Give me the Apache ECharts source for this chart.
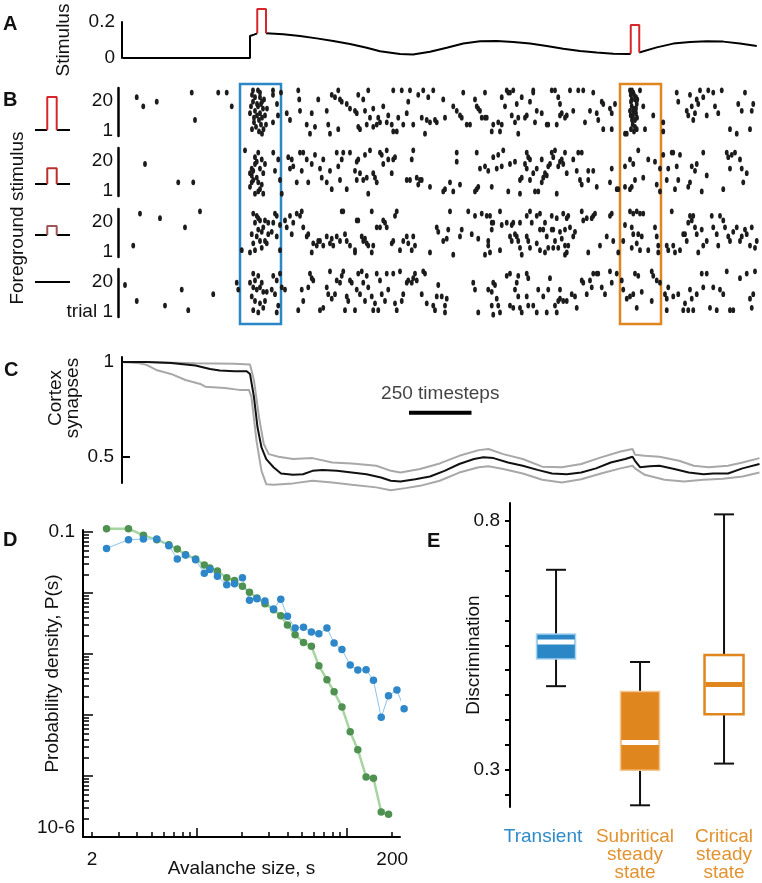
<!DOCTYPE html>
<html><head><meta charset="utf-8">
<script src="https://cdn.jsdelivr.net/npm/echarts@6/dist/echarts.min.js"></script>
<style>html,body{margin:0;padding:0;background:#fff}#c{width:762px;height:883px}</style>
</head><body><div id="c"></div>
<script>
// ---------------- DATA ----------------
const TIME_MAX = 2560;
// Panel A: stimulus trace (timesteps, amplitude)
const STIM_T = [4,100,200,300,400,512,512,528,541,576,645,712,779,845,912,979,1032,1112,1164,1232,1299,1365,1432,1499,1565,1632,1699,1765,1832,1899,1965,2025,2035,2069,2139,2205,2272,2339,2405,2472,2539];
const STIM_V = [0,0,0,0,0,0,0.122,0.13,0.137,0.137,0.132,0.122,0.109,0.094,0.078,0.057,0.037,0.022,0.020,0.035,0.057,0.081,0.093,0.094,0.089,0.080,0.067,0.052,0.039,0.030,0.024,0.022,0.024,0.031,0.059,0.080,0.089,0.093,0.091,0.081,0.067];
const PULSE_START = [541, 2035];
const PULSE_END = [576, 2069];
const PULSE_TOP = [0.272, 0.183];
// Panel B: foreground stimulus amplitude per block (relative) and spike rasters [timestep, trial]
const PULSE_AMPS = [1.0, 0.48, 0.27, 0];
const RASTER_1 = [[59,17],[85,13],[139,15],[279,19],[292,7],[385,19],[419,19],[439,13],
[524,20],[544,20],[552,19],[532,17],[552,17],[524,15],[560,15],[540,14],[516,13],[544,13],[564,12],[532,11],[552,10],[512,10],[540,9],[572,9],[560,8],[548,7],[528,6],[556,5],[536,4],[566,3],[548,2],[560,1],[520,18],[568,16],[604,20],[604,18],[636,19],[620,14],[624,9],[604,6],[580,12],[528,8],[556,14],[520,3],[576,5],
[659,10],[672,7],[705,20],[709,16],[712,11],[739,5],[752,1],[759,10],[772,4],[785,16],[819,11],[825,5],[839,18],[832,1],[852,17],[865,20],[865,3],[872,16],[879,15],[899,14],[912,12],[932,11],[939,10],[945,18],[945,4],[952,3],[965,16],[972,11],[979,5],[985,20],[992,8],[1005,12],[1005,4],[1019,5],[1025,8],[1032,6],[1045,13],[1059,6],[1065,9],[1079,5],[1085,20],[1085,2],[1099,2],[1105,8],[1119,20],[1125,5],[1139,10],[1145,15],[1152,20],[1165,5],[1185,18],[1199,8],[1205,20],[1212,1],[1219,7],[1225,17],[1232,6],[1245,20],[1252,7],
[1285,16],[1259,6],[1292,8],[1325,13],[1339,11],[1352,9],[1359,8],[1365,19],[1379,5],[1392,5],[1412,16],[1419,13],[1425,12],[1432,11],[1439,8],[1452,19],[1452,8],[1459,8],[1479,2],[1485,5],[1505,6],[1512,2],[1519,17],[1519,5],[1532,13],[1539,20],[1545,19],[1552,19],[1559,9],[1565,20],[1572,6],[1579,14],[1585,1],[1585,8],[1599,17],[1612,8],[1619,9],[1632,15],[1645,20],[1645,19],[1652,6],[1659,11],[1679,10],[1699,5],[1705,5],[1719,20],[1732,20],[1745,17],[1752,9],[1739,5],[1759,10],[1772,8],[1779,9],
[1752,14],[1792,20],[1805,11],[1825,20],[1845,20],[1852,6],[1872,11],[1885,19],[1899,10],[1905,7],[1919,15],[1925,14],[1925,3],[1952,12],[1959,10],[1959,3],[1972,14],[2012,1],
[2035,18],[2045,19],[2039,16],[2052,16],[2059,14],[2039,13],[2045,11],[2056,10],[2035,9],[2052,7],[2043,5],[2059,3],[2048,2],[2061,16],[2032,20],[2072,20],[2085,13],[2092,3],[2125,9],[2019,1],[2040,20],[2048,18],[2036,15],[2056,12],[2044,9],[2040,7],[2052,4],[2036,3],[2048,12],[2056,17],[2032,11],[2060,8],
[2165,6],[2165,2],[2219,19],[2225,15],[2259,11],[2265,9],[2272,18],[2279,13],[2285,7],[2292,10],[2299,16],[2305,14],[2312,20],[2325,17],[2339,9],[2345,20],[2365,19],[2372,13],[2385,10],[2399,20],[2432,3],[2459,1],[2465,14],[2479,11],[2492,19],[2512,3],[2519,11],[2525,14]];
const RASTER_2 = [[92,14],[225,6],[285,6],[492,20],
[525,11],[545,19],[559,16],[532,14],[519,9],[539,8],[565,10],[525,7],[545,6],[512,4],[552,3],[532,1],[565,1],[605,19],[612,11],[625,16],[632,7],[639,1],[572,14],[552,12],[519,12],[539,15],[512,10],[559,5],[532,17],[545,2],[519,6],
[665,17],[672,12],[679,16],[685,13],[699,6],[712,19],[719,11],[725,19],[739,16],[745,6],[759,14],[772,18],[792,12],[799,8],[805,16],[819,6],[832,11],[839,3],[859,19],[865,13],[872,7],[879,16],[885,19],[899,3],[912,19],[932,11],[939,15],[939,7],[945,16],[952,10],[965,7],[972,18],[979,8],[985,1],[992,20],[1005,10],[1012,8],[1019,6],[1032,19],[1039,18],[1045,14],[1059,20],[1065,16],[1079,10],[1085,16],[1092,17],[1139,7],[1152,7],[1159,16],[1165,20],[1179,8],[1185,5],[1192,7],[1199,7],[1232,4],
[1285,2],[1292,3],[1312,6],[1325,2],[1339,19],[1339,15],[1352,5],[1412,2],[1419,3],[1425,4],[1419,19],[1432,12],[1452,13],[1465,11],[1479,4],[1485,17],[1499,12],[1505,18],[1519,13],[1525,20],[1545,2],[1552,14],[1572,15],[1592,1],[1592,7],[1599,8],[1612,14],[1619,19],[1625,17],[1632,16],[1632,7],[1619,12],[1645,10],[1652,2],[1659,12],[1665,2],[1679,16],[1679,6],[1685,8],[1692,10],[1699,9],[1705,13],[1712,14],[1719,19],[1725,17],[1732,20],[1739,1],[1745,13],[1752,15],[1759,16],[1772,19],[1779,10],
[1765,14],[1805,16],[1825,19],[1839,19],[1819,11],[1832,7],[1839,5],[1865,11],[1865,7],[1885,11],[1899,4],[1952,6],[1959,12],[1979,3],[1985,3],
[2012,13],[2032,16],[2045,14],[2052,7],[2039,4],[2065,20],[2085,8],[2105,16],[2132,15],[2139,5],[2032,3],[2012,4],[2152,12],[2152,2],
[2165,18],[2179,7],[2185,12],[2199,19],[2205,19],[2212,3],[2219,13],[2225,7],[2232,18],[2265,4],[2272,6],[2279,13],[2292,11],[2299,14],[2319,2],[2325,19],[2339,9],[2405,3],[2419,19],[2425,17],[2432,12],[2439,18],[2452,19],[2472,16],[2479,12],[2485,6],[2499,10]];
const RASTER_3 = [[72,19],[152,17],[252,13],[312,20],[45,5],[479,3],
[525,19],[539,18],[532,15],[552,16],[519,10],[545,12],[565,13],[539,9],[525,6],[552,7],[572,7],[532,3],[559,4],[512,2],[612,19],[619,18],[605,15],[632,14],[599,11],[619,9],[585,10],[579,6],[632,3],[572,16],[585,15],[545,17],[559,11],
[652,16],[659,13],[672,18],[679,10],[685,15],[699,19],[712,18],[719,20],[725,13],[739,9],[745,10],[759,2],[765,6],[779,5],[785,7],[792,7],[805,5],[819,9],[832,6],[839,8],[845,5],[859,9],[872,7],[879,20],[885,20],[892,10],[899,7],[912,5],[932,2],[932,3],[939,16],[945,16],[959,9],[965,7],[972,8],[979,6],[985,5],[999,20],[999,2],[1005,5],[1019,13],[1032,13],[1045,16],[1052,15],[1059,13],[1079,6],[1085,7],[1092,18],[1099,20],[1112,3],[1125,7],[1139,9],[1145,6],[1159,3],[1165,9],[1172,5],[1232,2],[1259,13],
[1312,20],[1385,20],[1412,18],[1439,19],[1459,18],[1472,18],[1479,15],[1479,12],[1485,15],[1512,20],[1519,14],[1539,15],[1559,14],[1565,15],[1592,15],[1619,18],[1632,20],[1639,15],[1659,18],[1672,19],[1672,12],[1685,12],[1692,15],[1719,18],[1725,12],[1739,17],[1752,11],[1765,19],[1772,12],[1779,17],[1265,11],[1285,7],[1299,8],[1305,12],[1352,9],[1359,12],[1399,10],[1425,8],[1465,7],[1465,5],[1452,1],[1472,2],[1512,3],[1552,9],[1559,7],[1572,10],[1579,9],[1585,7],[1592,4],[1599,1],[1619,9],[1625,7],[1632,4],[1659,6],[1672,3],[1692,2],[1699,9],[1705,4],[1719,12],[1725,4],[1732,7],[1745,4],[1759,8],[1772,1],[1785,5],[1325,1],
[1785,18],[1792,13],[1805,9],[1772,5],[1779,2],[1812,11],[1839,20],[1845,16],[1859,17],[1879,17],[1885,18],[1892,19],[1865,2],[1912,5],[1939,9],[1952,18],[1965,7],[1959,19],[1985,2],
[2012,14],[2032,20],[2045,19],[2059,20],[2072,19],[2085,19],[2039,13],[2045,10],[2065,10],[2079,9],[2059,6],[2039,4],[2072,3],[2105,3],[2132,13],[2139,9],[2145,5],[2145,2],[2005,7],
[2179,5],[2185,3],[2199,20],[2205,5],[2212,2],[2232,3],[2245,10],[2252,10],[2259,7],[2265,15],[2272,18],[2279,16],[2285,18],[2292,13],[2299,10],[2305,2],[2319,12],[2325,5],[2339,7],[2359,18],[2365,13],[2379,10],[2385,5],[2392,18],[2405,16],[2412,13],[2425,9],[2432,7],[2445,11],[2459,13],[2472,7],[2479,9],[2492,12],[2499,10],[2512,5],[2519,13],[2532,4],[2539,7]];
const RASTER_4 = [[12,14],[59,7],[172,5],[239,12],[265,3],[365,10],[459,15],[465,12],
[525,19],[532,16],[545,18],[525,13],[539,12],[552,13],[565,11],[579,11],[599,12],[612,10],[519,9],[532,7],[552,6],[572,7],[525,3],[545,2],[565,4],[605,18],[619,16],[632,19],[639,13],[625,5],[619,2],[559,15],[512,15],
[652,12],[705,3],[719,12],[725,7],[745,13],[752,19],[759,17],[765,16],[792,3],[805,4],[819,13],[825,10],[832,20],[839,8],[852,10],[859,16],[872,15],[879,18],[885,20],[892,3],[899,9],[905,7],[912,16],[919,15],[932,3],[939,12],[945,19],[952,10],[959,20],[965,15],[972,7],[979,18],[985,13],[999,9],[1005,3],[1012,6],[1019,19],[1025,3],[1032,16],[1039,10],[1052,7],[1059,19],[1065,12],[1085,19],[1092,6],[1099,3],[1112,20],[1119,7],[1125,10],[1139,15],[1145,16],[1159,15],[1165,17],[1172,19],[1179,16],[1199,10],[1205,20],[1212,19],[1219,6],[1245,5],[1252,3],
[1265,14],[1259,9],[1279,9],[1299,8],[1292,5],[1292,2],[1405,15],[1412,12],[1425,2],[1465,12],[1479,11],[1485,15],[1492,14],[1499,8],[1479,5],[1485,1],[1505,5],[1512,2],[1539,18],[1552,19],[1552,5],[1565,4],[1572,12],[1579,15],[1585,18],[1585,9],[1592,4],[1599,2],[1619,19],[1625,17],[1619,9],[1625,5],[1645,5],[1659,2],[1665,12],[1685,9],[1699,2],[1705,12],[1712,17],[1732,5],[1739,2],[1745,7],[1752,8],[1765,7],[1779,7],
[1752,12],[1799,10],[1812,9],[1819,4],[1839,16],[1845,15],[1859,10],[1872,16],[1879,13],[1885,19],[1899,19],[1905,19],[1919,13],[1932,10],[1952,20],[1959,15],[1979,19],
[2005,12],[2019,8],[2032,9],[2045,10],[2052,19],[2065,18],[2079,11],[2119,20],[2125,18],[2119,7],[2059,4],[2139,16],[1999,16],
[2152,15],[2172,10],[2179,8],[2179,3],[2185,13],[2205,9],[2225,10],[2245,3],[2252,6],[2265,3],[2272,12],[2279,8],[2285,3],[2299,10],[2319,19],[2325,13],[2339,19],[2352,4],[2365,13],[2379,3],[2392,12],[2405,10],[2419,20],[2432,3],[2445,3],[2472,17],[2499,19],[2512,8],[2519,4],[2525,10],[2532,20]];
const RASTERS = [RASTER_1, RASTER_2, RASTER_3, RASTER_4];
const WINDOW_TRANSIENT = [472, 636];
const WINDOW_STEADY = [1992, 2156];
// Panel C: cortex synapses (timestep, value)
const C_MEAN_T = [0,98,196,294,352,391,450,499,512,528,542,558,577,606,636,684,724,762,802,860,919,978,1036,1075,1114,1173,1232,1290,1349,1408,1446,1486,1544,1603,1662,1720,1779,1837,1896,1955,2013,2042,2052,2072,2111,2150,2209,2267,2326,2365,2424,2482,2550];
const C_MEAN_V = [1.0,1.0,0.995,0.981,0.963,0.955,0.951,0.951,0.937,0.814,0.656,0.550,0.489,0.446,0.413,0.406,0.409,0.427,0.432,0.427,0.418,0.409,0.392,0.375,0.371,0.383,0.397,0.427,0.463,0.489,0.498,0.494,0.471,0.454,0.432,0.413,0.409,0.418,0.440,0.471,0.489,0.501,0.480,0.446,0.451,0.454,0.437,0.418,0.409,0.413,0.413,0.440,0.463];
const C_UP_T = [0,98,294,450,512,528,548,567,587,626,684,762,841,919,1017,1076,1114,1192,1271,1349,1427,1466,1525,1603,1681,1759,1837,1916,1994,2042,2052,2091,2150,2228,2287,2346,2424,2482,2550];
const C_UP_V = [1.0,1.0,0.993,0.990,0.986,0.902,0.709,0.568,0.515,0.501,0.489,0.494,0.471,0.466,0.454,0.427,0.418,0.437,0.466,0.506,0.536,0.542,0.515,0.489,0.449,0.446,0.463,0.498,0.529,0.542,0.512,0.506,0.501,0.480,0.454,0.446,0.454,0.471,0.494];
const C_LO_T = [0,59,98,137,196,254,313,333,411,469,508,518,538,558,577,606,684,762,841,919,1017,1075,1134,1192,1271,1349,1427,1466,1525,1603,1681,1759,1837,1916,1994,2042,2052,2091,2170,2248,2326,2404,2482,2550];
const C_LO_V = [1.0,0.995,0.985,0.958,0.937,0.905,0.884,0.870,0.863,0.853,0.853,0.814,0.585,0.427,0.357,0.354,0.361,0.375,0.366,0.354,0.340,0.325,0.336,0.348,0.375,0.418,0.446,0.451,0.437,0.413,0.380,0.366,0.383,0.413,0.440,0.454,0.440,0.406,0.380,0.371,0.380,0.385,0.397,0.418];
const SCALE_BAR_START = 1148, SCALE_BAR_LEN = 250, SCALE_BAR_LEVEL = 0.732;
// Panel D: avalanche size distribution
const AVAL_SIZE = [2.5,3.5,4.4,5.4,6.5,7.4,8.4,9.8,11.2,12.2,13.7,15.8,17.8,20.1,22.4,25.1,28.4,32.4,36.2,40.1,45.1,51.3,57.9,64.9,73.5,82,92.5,105,118,134,150,169,189,215,240];
const P_BLUE = [0.0539,0.0749,0.0767,0.0767,0.0597,0.0361,0.0420,0.0352,0.0210,0.0242,0.0188,0.0137,0.0142,0.0178,0.00759,0.00807,0.00740,0.00547,0.00787,0.00414,0.00267,0.00274,0.00230,0.00215,0.00267,0.00151,0.00118,6.61e-4,5.47e-4,5.53e-4,3.70e-4,9.16e-5,2.07e-4,2.57e-4,1.27e-4];
const P_GREEN = [0.1134,0.1134,0.0882,0.0749,0.0620,0.0526,0.0425,0.0361,0.0288,0.0257,0.0230,0.0178,0.0161,0.0129,0.0103,0.00828,0.00668,0.00533,0.00425,0.00299,0.00207,0.00155,0.00134,6.44e-4,3.79e-4,2.41e-4,1.35e-4,5.33e-5,2.70e-5,9.64e-6,9.16e-6,2.57e-6,2.35e-6];
// Panel E: discrimination box plots
const BOX_CATEGORIES = ['Transient', 'Subritical\nsteady\nstate', 'Critical\nsteady\nstate'];
const BOX_MIN = [0.468, 0.229, 0.3127];
const BOX_Q1  = [0.5225, 0.2993, 0.4119];
const BOX_MED = [0.5567, 0.355, 0.4716];
const BOX_Q3  = [0.5728, 0.4575, 0.5306];
const BOX_MAX = [0.7015, 0.5165, 0.8127];

// ---------------- STYLE / LAYOUT ----------------
const FONT = '"Liberation Sans", Arial, Helvetica, sans-serif';
const FS = 19;
const BLUE = '#2b87c6', ORANGE = '#e0861f', RED = '#d7262b';
const BLOCK_TOP = [88, 148, 209, 269];
const ICON_BASE = [130, 184, 235, 282];
const ICON_COLORS = ['#d7262b', '#b83131', '#9c5656'];
const LABEL_POS_E = [-0.155, 0.94, 2.0];
const BOX_STYLE = [
  {fill: BLUE, stroke: '#a9d3ef', lw: 1.5, med: '#ffffff'},
  {fill: ORANGE, stroke: '#f4c68e', lw: 1.5, med: '#ffffff'},
  {fill: '#ffffff', stroke: ORANGE, lw: 2.5, med: ORANGE}
];
const txt = {fontFamily: FONT, fontSize: FS, color: '#111'};
const log10 = Math.log10;

const grids = [], xAxes = [], yAxes = [], series = [];
function addGrid(g) { grids.push(Object.assign({outerBoundsMode: 'none', containLabel: false}, g)); return grids.length - 1; }
function hid(gi, min, max) { return {type: 'value', gridIndex: gi, min, max, show: false, axisLine: {onZero: false}}; }

// ---- Panel A
const gA = addGrid({left: 122, right: 0, top: 22, height: 36});
xAxes.push(hid(gA, 0, TIME_MAX));
yAxes.push({type: 'value', gridIndex: gA, min: 0, max: 0.2,
  axisLine: {show: true, onZero: false, lineStyle: {color: '#000', width: 2}},
  axisTick: {show: false}, splitLine: {show: false},
  axisLabel: Object.assign({customValues: [0, 0.2], margin: 7, formatter: v => v < 0.1 ? '0' : '0.2'}, txt),
  name: 'Stimulus', nameLocation: 'middle', nameGap: 49, nameMoveOverlap: false, nameTextStyle: txt});
(function () {
  const xA = xAxes.length - 1, yA = yAxes.length - 1;
  let seg = [[STIM_T[0], STIM_V[0]]];
  const segs = [];
  for (let i = 1; i < STIM_T.length; i++) {
    const k = PULSE_START.indexOf(STIM_T[i - 1]);
    if (k >= 0 && STIM_T[i] === PULSE_END[k]) { segs.push(seg); seg = []; }
    seg.push([STIM_T[i], STIM_V[i]]);
  }
  segs.push(seg);
  segs.forEach(s => series.push({type: 'line', xAxisIndex: xA, yAxisIndex: yA, data: s, symbol: 'none', clip: false,
    lineStyle: {color: '#000', width: 2}, silent: true}));
  const vAt = t => STIM_V[STIM_T.indexOf(t)];
  PULSE_START.forEach((s, k) => series.push({type: 'line', xAxisIndex: xA, yAxisIndex: yA, symbol: 'none', clip: false,
    data: [[s, vAt(s)], [s, PULSE_TOP[k]], [PULSE_END[k], PULSE_TOP[k]], [PULSE_END[k], vAt(PULSE_END[k])]],
    lineStyle: {color: RED, width: 2}, silent: true}));
})();

// ---- Panel B raster blocks
const DOT = 'path://M10,0A10,10,0,1,1,-10,0A10,10,0,1,1,10,0Z';
RASTERS.forEach((r, b) => {
  const g = addGrid({left: 118, right: 0, top: BLOCK_TOP[b], height: 48});
  xAxes.push(hid(g, -16, TIME_MAX));
  yAxes.push({type: 'value', gridIndex: g, min: 0, max: 21,
    axisLine: {show: true, onZero: false, lineStyle: {color: '#000', width: 2.5}},
    axisTick: {show: false}, splitLine: {show: false},
    axisLabel: {customValues: [1, 20], margin: 5,
      formatter: v => v > 10 ? '{t|20}' : (b === 3 ? '{b|trial 1}' : '{b|1}'),
      rich: {t: Object.assign({padding: [20, 0, 0, 0]}, txt), b: Object.assign({padding: [0, 0, 6, 0]}, txt)}}});
  series.push({type: 'scatter', xAxisIndex: xAxes.length - 1, yAxisIndex: yAxes.length - 1, data: r,
    symbol: DOT, symbolSize: [3.8, 5.8], itemStyle: {color: '#1c1c1c', opacity: 1}, silent: true});
});
// analysis windows overlay
(function () {
  const g = addGrid({left: 118, right: 0, top: 84, height: 240});
  xAxes.push(hid(g, -16, TIME_MAX)); yAxes.push(hid(g, 0, 1));
  const cols = [BLUE, ORANGE];
  series.push({type: 'custom', xAxisIndex: xAxes.length - 1, yAxisIndex: yAxes.length - 1, silent: true,
    data: [[WINDOW_TRANSIENT[0], WINDOW_TRANSIENT[1], 0], [WINDOW_STEADY[0], WINDOW_STEADY[1], 1]],
    renderItem: (p, api) => {
      const x0 = api.coord([api.value(0), 0])[0], x1 = api.coord([api.value(1), 0])[0];
      const yT = api.coord([0, 1])[1], yB = api.coord([0, 0])[1];
      return {type: 'rect', shape: {x: x0, y: yT, width: x1 - x0, height: yB - yT},
        style: {fill: 'none', stroke: cols[api.value(2)], lineWidth: 2.5}};
    }});
})();
// stimulus icons
PULSE_AMPS.forEach((a, b) => {
  const g = addGrid({left: 35, width: 35, top: ICON_BASE[b] - 33, height: 33});
  xAxes.push(hid(g, 0, 1)); yAxes.push(hid(g, 0, 1));
  const xi = xAxes.length - 1, yi = yAxes.length - 1;
  const base = {type: 'line', xAxisIndex: xi, yAxisIndex: yi, symbol: 'none', clip: false, silent: true};
  if (a > 0) {
    series.push(Object.assign({data: [[0, 0], [0.35, 0]], lineStyle: {color: '#000', width: 2}}, base));
    series.push(Object.assign({data: [[0.62, 0], [1, 0]], lineStyle: {color: '#000', width: 2}}, base));
    series.push(Object.assign({data: [[0.35, 0], [0.35, a], [0.62, a], [0.62, 0]], lineStyle: {color: ICON_COLORS[b], width: 2}}, base));
  } else {
    series.push(Object.assign({data: [[0, 0], [1, 0]], lineStyle: {color: '#000', width: 2}}, base));
  }
});

// ---- Panel C
(function () {
  const g = addGrid({left: 122, right: 0, top: 357, bottom: 400});
  xAxes.push(hid(g, 0, TIME_MAX));
  yAxes.push({type: 'value', gridIndex: g, min: 0.363, max: 1.026,
    axisLine: {show: true, onZero: false, lineStyle: {color: '#000', width: 2}},
    axisTick: {show: true, inside: true, length: 8, customValues: [0.5, 1], lineStyle: {color: '#000', width: 2}},
    splitLine: {show: false},
    axisLabel: Object.assign({customValues: [0.5, 1], margin: 8, formatter: v => v > 0.75 ? '1' : '0.5'}, txt),
    name: 'Cortex\nsynapses', nameLocation: 'middle', nameGap: 41, nameMoveOverlap: false,
    nameTextStyle: Object.assign({lineHeight: 17, padding: [0, 0, 0, 44]}, txt)});
  const xi = xAxes.length - 1, yi = yAxes.length - 1;
  const mk = (T, V) => T.map((t, i) => [t, V[i]]);
  const ln = {type: 'line', xAxisIndex: xi, yAxisIndex: yi, symbol: 'none', clip: false, silent: true};
  series.push(Object.assign({data: mk(C_UP_T, C_UP_V), lineStyle: {color: '#a8a8a8', width: 2}}, ln));
  series.push(Object.assign({data: mk(C_LO_T, C_LO_V), lineStyle: {color: '#a8a8a8', width: 2}}, ln));
  series.push(Object.assign({data: mk(C_MEAN_T, C_MEAN_V), lineStyle: {color: '#111', width: 2}}, ln));
  series.push(Object.assign({data: [[SCALE_BAR_START, SCALE_BAR_LEVEL], [SCALE_BAR_START + SCALE_BAR_LEN, SCALE_BAR_LEVEL]],
    lineStyle: {color: '#000', width: 4, cap: 'butt'}}, ln));
  series.push({type: 'scatter', xAxisIndex: xi, yAxisIndex: yi, silent: true, symbolSize: 0,
    data: [[SCALE_BAR_START + SCALE_BAR_LEN / 2, SCALE_BAR_LEVEL]],
    label: Object.assign({show: true, position: 'top', distance: 10, formatter: SCALE_BAR_LEN + ' timesteps'}, txt)});
})();

// ---- Panel D
(function () {
  const g = addGrid({left: 83, right: 362, top: 530, bottom: 46});
  const minorX = [], minorY = [];
  [1, 10, 100].forEach(d => { for (let k = 2; k <= 9; k++) { const v = log10(k * d); if (v > 0.241 && v < 2.353) minorX.push(v); } });
  for (let n = -6; n <= -2; n++) for (let k = 2; k <= 9; k++) minorY.push(log10(k) + n);
  const axL = {show: true, onZero: false, lineStyle: {color: '#000', width: 2}};
  xAxes.push({type: 'value', gridIndex: g, min: 0.241, max: 2.353, position: 'bottom', axisLine: axL,
    axisTick: {show: true, inside: true, length: 9, customValues: [1, 2], lineStyle: {color: '#000', width: 1.5}},
    splitLine: {show: false},
    axisLabel: Object.assign({customValues: [log10(2), log10(200)], margin: 13, formatter: v => String(Math.round(Math.pow(10, v)))}, txt),
    name: 'Avalanche size, s', nameLocation: 'middle', nameGap: 22, nameMoveOverlap: false, nameTextStyle: txt});
  const xMaj = xAxes.length - 1;
  xAxes.push({type: 'value', gridIndex: g, min: 0.241, max: 2.353, position: 'bottom', axisLine: {show: false, onZero: false},
    axisTick: {show: true, inside: true, length: 5, customValues: minorX, lineStyle: {color: '#000', width: 1.5}},
    splitLine: {show: false}, axisLabel: {show: false}});
  yAxes.push({type: 'value', gridIndex: g, min: -6, max: -0.967, position: 'left', axisLine: axL,
    axisTick: {show: true, inside: true, length: 10, customValues: [-6, -5, -4, -3, -2, -1], lineStyle: {color: '#000', width: 1.5}},
    splitLine: {show: false},
    axisLabel: {customValues: [-6, -1], margin: 8,
      formatter: v => v < -3 ? '{l|10-6}' : '{h|0.1}',
      rich: {l: Object.assign({padding: [0, 0, 18, 0]}, txt), h: Object.assign({}, txt)}},
    name: 'Probability density, P(s)', nameLocation: 'middle', nameGap: 21, nameMoveOverlap: false,
    nameTextStyle: Object.assign({padding: [0, 0, 0, 20]}, txt)});
  const yMaj = yAxes.length - 1;
  yAxes.push({type: 'value', gridIndex: g, min: -6, max: -0.967, position: 'left', axisLine: {show: false, onZero: false},
    axisTick: {show: true, inside: true, length: 6, customValues: minorY, lineStyle: {color: '#000', width: 1.5}},
    splitLine: {show: false}, axisLabel: {show: false}});
  const pts = P => P.map((p, i) => [log10(AVAL_SIZE[i]), log10(p)]);
  series.push({type: 'line', xAxisIndex: xMaj, yAxisIndex: yMaj, data: pts(P_GREEN), clip: false, silent: true,
    symbol: 'circle', symbolSize: 7.5, showSymbol: true, showAllSymbol: true,
    lineStyle: {color: '#a6d5a0', width: 2.5}, itemStyle: {color: '#4f9150', borderWidth: 0}});
  series.push({type: 'line', xAxisIndex: xMaj, yAxisIndex: yMaj, data: pts(P_BLUE), clip: false, silent: true,
    symbol: 'circle', symbolSize: 7.5, showSymbol: true, showAllSymbol: true,
    lineStyle: {color: '#8cc3e8', width: 1}, itemStyle: {color: '#2d87c8', borderWidth: 0}});
})();

// ---- Panel E
(function () {
  const g = addGrid({left: 510, right: 0, top: 503, bottom: 76});
  const keys = ['t', 's', 'c'];
  const idxOf = v => v < 0.5 ? 0 : (v < 1.5 ? 1 : 2);
  xAxes.push({type: 'value', gridIndex: g, min: -0.548, max: 2.452, axisLine: {show: false, onZero: false},
    axisTick: {show: false}, splitLine: {show: false},
    axisLabel: {customValues: LABEL_POS_E, margin: 21, hideOverlap: false,
      formatter: v => { const i = idxOf(v); return BOX_CATEGORIES[i].split('\n').map(l => '{' + keys[i] + '|' + l + '}').join('\n'); },
      rich: {
        t: {fontFamily: FONT, fontSize: FS, color: '#2f8bc9', lineHeight: 18},
        s: {fontFamily: FONT, fontSize: FS, color: '#e2922f', lineHeight: 18},
        c: {fontFamily: FONT, fontSize: FS, color: '#e2922f', lineHeight: 18}
      }}});
  const ticks = []; for (let k = 5; k <= 16; k++) ticks.push(k * 0.05);
  yAxes.push({type: 'value', gridIndex: g, min: 0.2256, max: 0.8355,
    axisLine: {show: true, onZero: false, lineStyle: {color: '#000', width: 2}},
    axisTick: {show: true, inside: false, length: 5, customValues: ticks, lineStyle: {color: '#000', width: 2}},
    splitLine: {show: false},
    axisLabel: Object.assign({customValues: [0.3, 0.8], margin: 10, formatter: v => v.toFixed(1)}, txt),
    name: 'Discrimination', nameLocation: 'middle', nameGap: 27, nameMoveOverlap: false, nameTextStyle: txt});
  series.push({type: 'custom', xAxisIndex: xAxes.length - 1, yAxisIndex: yAxes.length - 1, silent: true,
    data: BOX_CATEGORIES.map((c, i) => [i, BOX_MIN[i], BOX_Q1[i], BOX_MED[i], BOX_Q3[i], BOX_MAX[i]]),
    renderItem: (p, api) => {
      const i = api.value(0), st = BOX_STYLE[i];
      const xc = api.coord([i, 0.5])[0];
      const y = k => api.coord([i, api.value(k)])[1];
      const yMin = y(1), yQ1 = y(2), yMed = y(3), yQ3 = y(4), yMax = y(5);
      const hw = 19.5, cw = 10, blk = {stroke: '#111', lineWidth: 2};
      return {type: 'group', children: [
        {type: 'line', shape: {x1: xc, y1: yMax, x2: xc, y2: yQ3}, style: blk},
        {type: 'line', shape: {x1: xc, y1: yQ1, x2: xc, y2: yMin}, style: blk},
        {type: 'line', shape: {x1: xc - cw, y1: yMax, x2: xc + cw, y2: yMax}, style: blk},
        {type: 'line', shape: {x1: xc - cw, y1: yMin, x2: xc + cw, y2: yMin}, style: blk},
        {type: 'rect', shape: {x: xc - hw, y: yQ3, width: 2 * hw, height: yQ1 - yQ3}, style: {fill: st.fill, stroke: st.stroke, lineWidth: st.lw}},
        {type: 'line', shape: {x1: xc - hw + 1, y1: yMed, x2: xc + hw - 1, y2: yMed}, style: {stroke: st.med, lineWidth: 5}}
      ]};
    }});
})();

// ---- Panel letters
const letter = (t, l, tp) => ({text: t, left: l, top: tp, padding: 0,
  textStyle: {fontFamily: FONT, fontSize: 20, fontWeight: 'bold', color: '#111'}});

const chart = echarts.init(document.getElementById('c'), null, {renderer: 'canvas'});
chart.setOption({
  animation: false,
  backgroundColor: '#fff',
  textStyle: {fontFamily: FONT},
  title: [letter('A', 3, 14), letter('B', 3, 90), letter('C', 4, 360), letter('D', 3, 530), letter('E', 427, 531)],
  grid: grids, xAxis: xAxes, yAxis: yAxes, series: series,
  graphic: [{type: 'text', x: 18, y: 218, rotation: Math.PI / 2, silent: true,
    style: {text: 'Foreground stimulus', font: FS + 'px ' + FONT, fill: '#111',
      textAlign: 'center', textVerticalAlign: 'middle', align: 'center', verticalAlign: 'middle'}}]
});
</script></body></html>
